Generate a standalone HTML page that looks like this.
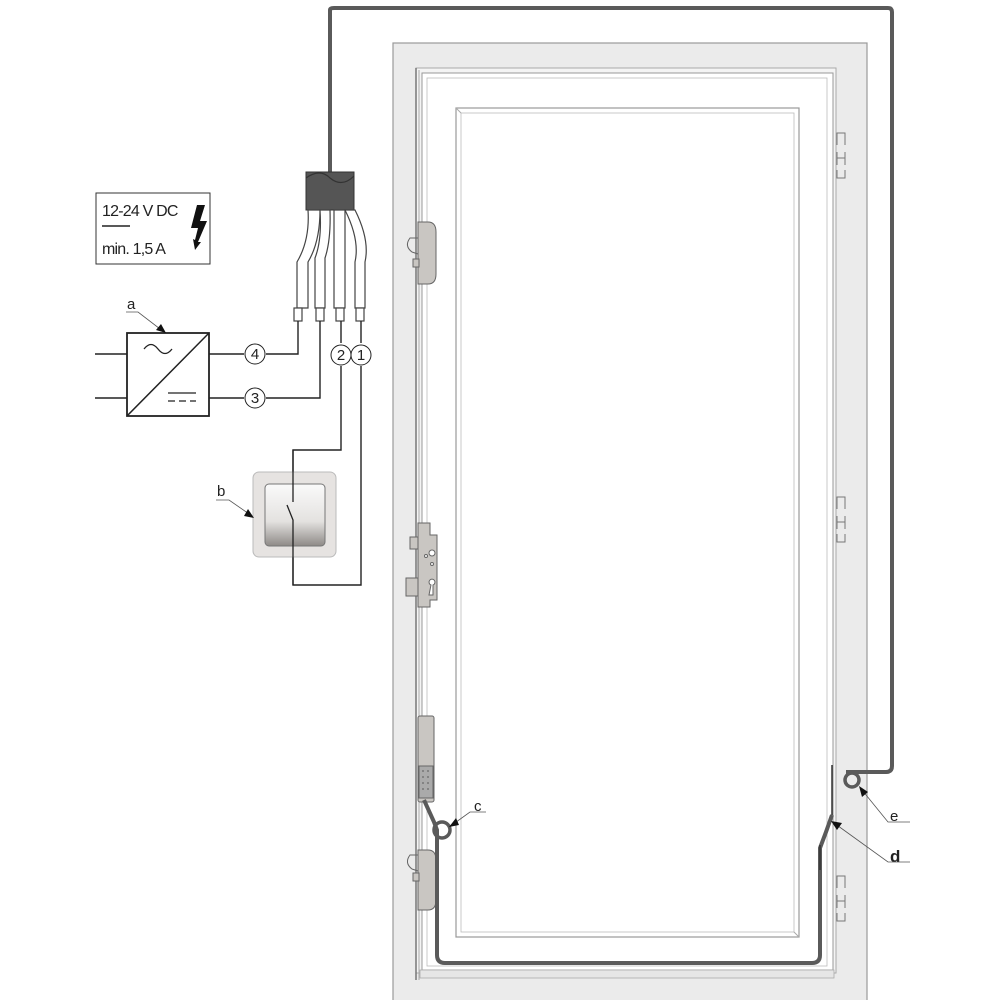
<!DOCTYPE html>
<html><head><meta charset="utf-8"><style>
html,body{margin:0;padding:0;background:#fff;}
svg{display:block;font-family:"Liberation Sans",sans-serif;}
</style></head><body>
<svg width="1000" height="1000" viewBox="0 0 1000 1000" xmlns="http://www.w3.org/2000/svg">
<!-- frame -->
<rect x="393" y="43" width="474" height="960" fill="#ebebeb" stroke="#999" stroke-width="1.2"/>
<rect x="416" y="68" width="420" height="905" fill="#f4f4f4" stroke="#aaa" stroke-width="1"/>
<rect x="422" y="73" width="411" height="897" fill="#fff" stroke="#999" stroke-width="1"/>
<rect x="427" y="78" width="400" height="888" fill="#fff" stroke="#bbb" stroke-width="0.8"/>
<rect x="420" y="970" width="414" height="8" fill="#e6e6e6" stroke="#aaa" stroke-width="0.8"/>
<!-- panel -->
<rect x="456" y="108" width="343" height="829" fill="#fff" stroke="#999" stroke-width="1.2"/>
<rect x="461" y="113" width="333" height="819" fill="#fff" stroke="#bbb" stroke-width="0.8"/>
<line x1="456" y1="108" x2="461" y2="113" stroke="#aaa"/>
<line x1="799" y1="937" x2="794" y2="932" stroke="#aaa"/>
<!-- left edge rail -->
<line x1="416" y1="68" x2="416" y2="980" stroke="#777" stroke-width="1.5"/>
<line x1="419" y1="70" x2="419" y2="980" stroke="#aaa" stroke-width="1"/>
<!-- strike plates right -->
<g fill="none" stroke="#777" stroke-width="1">
<path d="M837 145 V133 H845 V145 M837 152 V165 M845 152 V165 M837 158 H845 M837 170 V178 H845 V170"/>
<path d="M837 509 V497 H845 V509 M837 516 V529 M845 516 V529 M837 522 H845 M837 534 V542 H845 V534"/>
<path d="M837 888 V876 H845 V888 M837 895 V908 M845 895 V908 M837 901 H845 M837 913 V921 H845 V913"/>
</g>
<!-- locks -->
<g stroke="#666" stroke-width="1" fill="#c9c6c2">
<path d="M418 222 H428 Q436 222 436 232 V274 Q436 284 428 284 H418 Z"/>
<path d="M418 238 H410 Q404 246 412 252 L418 254" fill="none"/>
<rect x="413" y="259" width="6" height="8"/>
<path d="M418 850 H428 Q436 850 436 860 V900 Q436 910 428 910 H418 Z"/>
<path d="M418 855 H410 Q404 863 412 869 L418 871" fill="none"/>
<rect x="413" y="873" width="6" height="8"/>
<path d="M418 523 H430 V535 H437 V600 H430 V607 H418 Z"/>
<rect x="406" y="578" width="12" height="18"/>
<rect x="410" y="537" width="8" height="12"/>
<circle cx="432" cy="553" r="3" fill="#fff"/>
<circle cx="426" cy="556" r="1.5" fill="#fff"/>
<circle cx="432" cy="564" r="1.5" fill="#fff"/>
<path d="M431 585 a3 3 0 1 1 2 0 V595 H429 Z" fill="#fff"/>
<rect x="418" y="716" width="16" height="86" rx="2"/>
<rect x="419" y="766" width="14" height="32" fill="#aaa"/>
</g>
<g fill="#777"><circle cx="423" cy="771" r="1"/><circle cx="428" cy="771" r="1"/><circle cx="423" cy="777" r="1"/><circle cx="428" cy="777" r="1"/><circle cx="423" cy="783" r="1"/><circle cx="428" cy="783" r="1"/><circle cx="423" cy="789" r="1"/><circle cx="428" cy="789" r="1"/></g>
<!-- cable -->
<g fill="none" stroke="#5a5a5a" stroke-width="4" stroke-linejoin="round">
<path d="M330 172 V10 Q330 8 334 8 H888 Q892 8 892 12 V766 Q892 772 886 772 H846"/>
<path d="M424 800 L434 822 L437 830 V955 Q437 963 445 963 H812 Q820 963 820 955 V848 L826 832 L832 815"/>
<circle cx="442" cy="830" r="8" stroke-width="3.5"/>
<circle cx="852" cy="780" r="7" stroke-width="3.5"/>
</g>
<g stroke="#333" stroke-width="1.5" fill="none">
<path d="M832 765 V815"/><path d="M820 845 V870"/>
</g>
<!-- bundle -->
<path d="M306 172 H354 V210 H306 Z" fill="#555" stroke="#333"/>
<path d="M306 178 Q320 168 330 178 Q342 188 354 176" fill="none" stroke="#333" stroke-width="1.2"/>
<g stroke="#444" stroke-width="1.2" fill="#fff">
<path d="M308 210 Q310 240 297 262 V308 H308 V262 Q320 242 320 210 Z"/>
<path d="M320 210 Q322 240 315 258 V308 H325 V258 Q331 240 330 210 Z"/>
<path d="M334 210 V308 H345 V210 Z"/>
<path d="M345 210 Q360 240 355 262 V308 H365 V262 Q370 240 355 210 Z"/>
<rect x="294" y="308" width="8" height="13"/><rect x="316" y="308" width="8" height="13"/>
<rect x="336" y="308" width="8" height="13"/><rect x="356" y="308" width="8" height="13"/>
</g>
<!-- wires -->
<g stroke="#222" stroke-width="1.4" fill="none">
<path d="M298 321 V354 H266"/><path d="M320 321 V398 H266"/>
<path d="M341 321 V343"/><path d="M361 321 V343"/>
<path d="M341 366 V450 H293 V500"/><path d="M361 366 V585 H293 V528"/>
<path d="M95 354 H127 M95 398 H127 M209 354 H244 M209 398 H244"/>
</g>
<g stroke="#222" stroke-width="1" fill="#fff">
<circle cx="255" cy="354" r="10"/><circle cx="255" cy="398" r="10"/>
<circle cx="341" cy="355" r="10"/><circle cx="361" cy="355" r="10"/>
</g>
<g font-size="15" text-anchor="middle" fill="#222">
<text x="255" y="359">4</text><text x="255" y="403">3</text>
<text x="341" y="360">2</text><text x="361" y="360">1</text>
</g>
<!-- power supply -->
<rect x="127" y="333" width="82" height="83" fill="#fff" stroke="#222" stroke-width="1.8"/>
<line x1="127" y1="416" x2="209" y2="333" stroke="#222" stroke-width="1.5"/>
<path d="M144 349 q7 -9 14 0 t14 0" fill="none" stroke="#222" stroke-width="1.3"/>
<line x1="168" y1="393" x2="196" y2="393" stroke="#222" stroke-width="1.3"/>
<path d="M168 401 H175 M179 401 H186 M190 401 H196" stroke="#222" stroke-width="1.3"/>
<text x="127" y="309" font-size="15" fill="#222">a</text>
<path d="M126 312 H138 L164 332" fill="none" stroke="#555" stroke-width="0.8"/>
<path d="M166 333 L156 330 L161 324 Z" fill="#111"/>
<!-- switch -->
<rect x="253" y="472" width="83" height="85" rx="6" fill="#e6e3e1" stroke="#bbb"/>
<defs><linearGradient id="g" x1="0" y1="0" x2="0" y2="1"><stop offset="0" stop-color="#fafafa"/><stop offset="0.6" stop-color="#e4e2e0"/><stop offset="1" stop-color="#8e8a87"/></linearGradient></defs>
<rect x="265" y="484" width="60" height="62" rx="4" fill="url(#g)" stroke="#777"/>
<path d="M293 450 V502 M287 505 L293 520 V585" fill="none" stroke="#222" stroke-width="1.3"/>
<text x="217" y="496" font-size="15" fill="#222">b</text>
<path d="M216 500 H229 L252 516" fill="none" stroke="#555" stroke-width="0.8"/>
<path d="M254 518 L244 516 L248 509 Z" fill="#111"/>
<!-- spec box -->
<rect x="96" y="193" width="114" height="71" fill="#fff" stroke="#333" stroke-width="1"/>
<text x="102" y="216" font-size="16" fill="#222" letter-spacing="-0.8">12-24 V DC</text>
<line x1="102" y1="226" x2="130" y2="226" stroke="#222" stroke-width="1.5"/>
<text x="102" y="254" font-size="16" fill="#222" letter-spacing="-0.8">min. 1,5 A</text>
<path d="M197 205 L205 205 L200 221 L207 221 L198 242 L201 242 L195 250 L193 239 L195 240 L198 228 L191 228 Z" fill="#111"/>
<!-- labels c, d, e -->
<text x="474" y="811" font-size="15" fill="#222">c</text>
<path d="M486 812 H470 L452 825" fill="none" stroke="#555" stroke-width="0.8"/>
<path d="M449 827 L456 818 L459 825 Z" fill="#111"/>
<text x="890" y="821" font-size="15" fill="#222">e</text>
<path d="M910 822 H888 L862 790" fill="none" stroke="#555" stroke-width="0.8"/>
<path d="M859 786 L868 792 L862 797 Z" fill="#111"/>
<text x="890" y="862" font-size="17" font-weight="bold" fill="#222">d</text>
<path d="M910 862 H888 L834 823" fill="none" stroke="#555" stroke-width="0.8"/>
<path d="M831 821 L842 823 L837 830 Z" fill="#111"/>
</svg>
</body></html>
